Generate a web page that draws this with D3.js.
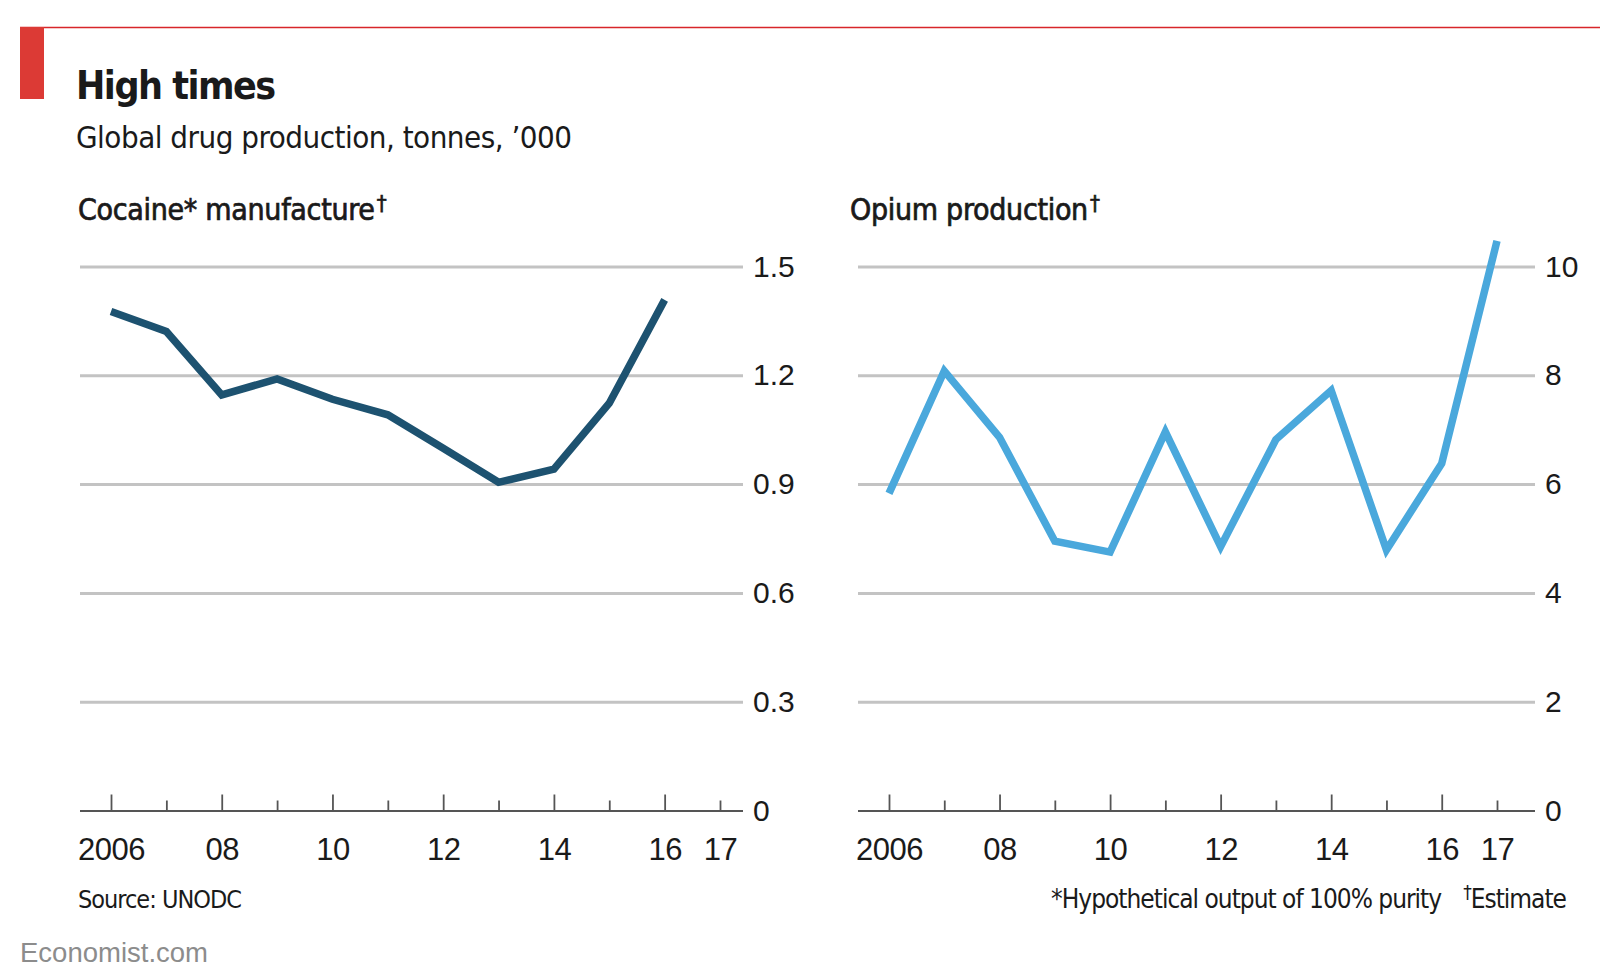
<!DOCTYPE html>
<html>
<head>
<meta charset="utf-8">
<script src="https://cdn.jsdelivr.net/npm/d3@7"></script>
<style>
  body { margin: 0; background: #fff; }
  text { font-family: "DejaVu Sans Condensed", "Liberation Sans Narrow", sans-serif; fill: #1a1a1a; }
</style>
</head>
<body>
<svg id="chart"></svg>
<script>
// data, tonnes '000
const years = [2006, 2007, 2008, 2009, 2010, 2011, 2012, 2013, 2014, 2015, 2016, 2017]
const cocaine = [1.376, 1.321, 1.146, 1.19, 1.134, 1.091, 0.999, 0.905, 0.941, 1.123, 1.408]
const opium = [5.83, 8.08, 6.86, 4.95, 4.75, 6.96, 4.85, 6.82, 7.72, 4.79, 6.38, 10.47]
const cocaineTicks = [0, 0.3, 0.6, 0.9, 1.2, 1.5]
const opiumTicks = [0, 2, 4, 6, 8, 10]
const yearLabels = { 2006: "2006", 2008: "08", 2010: "10", 2012: "12", 2014: "14", 2016: "16", 2017: "17" }

const width = 1600
const height = 980

const svg = d3.select("#chart").attr("width", width).attr("height", height)

// header
svg.append("line")
  .attr("x1", 20).attr("x2", width).attr("y1", 27.5).attr("y2", 27.5)
  .attr("stroke", "#d8262a").attr("stroke-width", 1.6)
svg.append("rect")
  .attr("x", 20).attr("y", 27).attr("width", 24).attr("height", 72)
  .attr("fill", "#dc3a35")

svg.append("text")
  .attr("x", 76).attr("y", 99)
  .attr("font-size", 39).attr("font-weight", "bold")
  .attr("letter-spacing", -1.5)
  .text("High times")
svg.append("text")
  .attr("x", 76).attr("y", 148)
  .attr("font-size", 31).attr("letter-spacing", -0.5)
  .text("Global drug production, tonnes, \u2019000")

const panels = [
  { title: "Cocaine* manufacture", values: cocaine, ticks: cocaineTicks,
    fmt: (d) => d === 0 ? "0" : d3.format(".1f")(d),
    color: "#1d5270", titleX: 78, gridL: 80, gridR: 743, xL: 111, xR: 720 },
  { title: "Opium production", values: opium, ticks: opiumTicks, fmt: d3.format("d"),
    color: "#4aa8dc", titleX: 850, gridL: 858, gridR: 1535, xL: 889, xR: 1497 }
]

const yTop = 266.5
const yBottom = 810.5

panels.forEach((p) => {
  const g = svg.append("g")

  const x = d3.scaleLinear().domain([2006, 2017]).range([p.xL, p.xR])
  const y = d3.scaleLinear().domain([0, d3.max(p.ticks)]).range([yBottom, yTop])

  const t = g.append("text")
    .attr("x", p.titleX).attr("y", 220)
    .attr("font-size", 30).attr("letter-spacing", -0.3)
    .attr("stroke", "#1a1a1a").attr("stroke-width", 0.7)
    .text(p.title)
  t.append("tspan").attr("font-size", 22).attr("dy", -9).attr("dx", 2).text("\u2020")

  // gridlines + value labels
  const yAxis = g.append("g")
    .attr("transform", `translate(${p.gridR},0)`)
    .call(d3.axisRight(y).tickValues(p.ticks).tickFormat(p.fmt)
      .tickSizeInner(-(p.gridR - p.gridL)).tickSizeOuter(0).tickPadding(10))
  yAxis.select(".domain").remove()
  yAxis.selectAll(".tick line")
    .attr("stroke", (d) => d === 0 ? "#555" : "#c3c3c3")
    .attr("stroke-width", (d) => d === 0 ? 2 : 3)
  yAxis.selectAll(".tick text")
    .attr("font-size", 30).attr("fill", "#1a1a1a")
    .style("font-family", "inherit")

  // year ticks and labels
  const xAxis = g.append("g")
    .attr("transform", `translate(0,${yBottom})`)
    .call(d3.axisBottom(x).tickValues(years)
      .tickFormat((d) => yearLabels[d] || "")
      .tickSizeInner(0).tickSizeOuter(0).tickPadding(27))
  xAxis.select(".domain").remove()
  xAxis.selectAll(".tick line")
    .attr("y2", (d) => d % 2 === 0 ? -16 : -10)
    .attr("stroke", "#555").attr("stroke-width", 1.8)
  xAxis.selectAll(".tick text")
    .attr("font-size", 31).attr("letter-spacing", -0.5).attr("fill", "#1a1a1a")
    .style("font-family", "inherit")

  const line = d3.line()
    .x((d, i) => x(years[i]))
    .y((d) => y(d))

  g.append("path")
    .datum(p.values)
    .attr("d", line)
    .attr("fill", "none")
    .attr("stroke", p.color)
    .attr("stroke-width", 7.5)
})

// footer
svg.append("text")
  .attr("x", 78).attr("y", 908)
  .attr("font-size", 25).attr("letter-spacing", -1)
  .text("Source: UNODC")

const note = svg.append("text")
  .attr("x", 1566).attr("y", 908)
  .attr("text-anchor", "end")
  .attr("font-size", 26).attr("letter-spacing", -1)
note.append("tspan").text("*Hypothetical output of 100% purity")
note.append("tspan").attr("dx", 22).attr("font-size", 19).attr("dy", -9).text("\u2020")
note.append("tspan").attr("font-size", 26).attr("dy", 9).text("Estimate")

svg.append("text")
  .attr("x", 20).attr("y", 962)
  .attr("font-size", 27.5)
  .style("font-family", "'Liberation Sans', Arial, sans-serif")
  .style("fill", "#8c8c8c")
  .text("Economist.com")
</script>
</body>
</html>
